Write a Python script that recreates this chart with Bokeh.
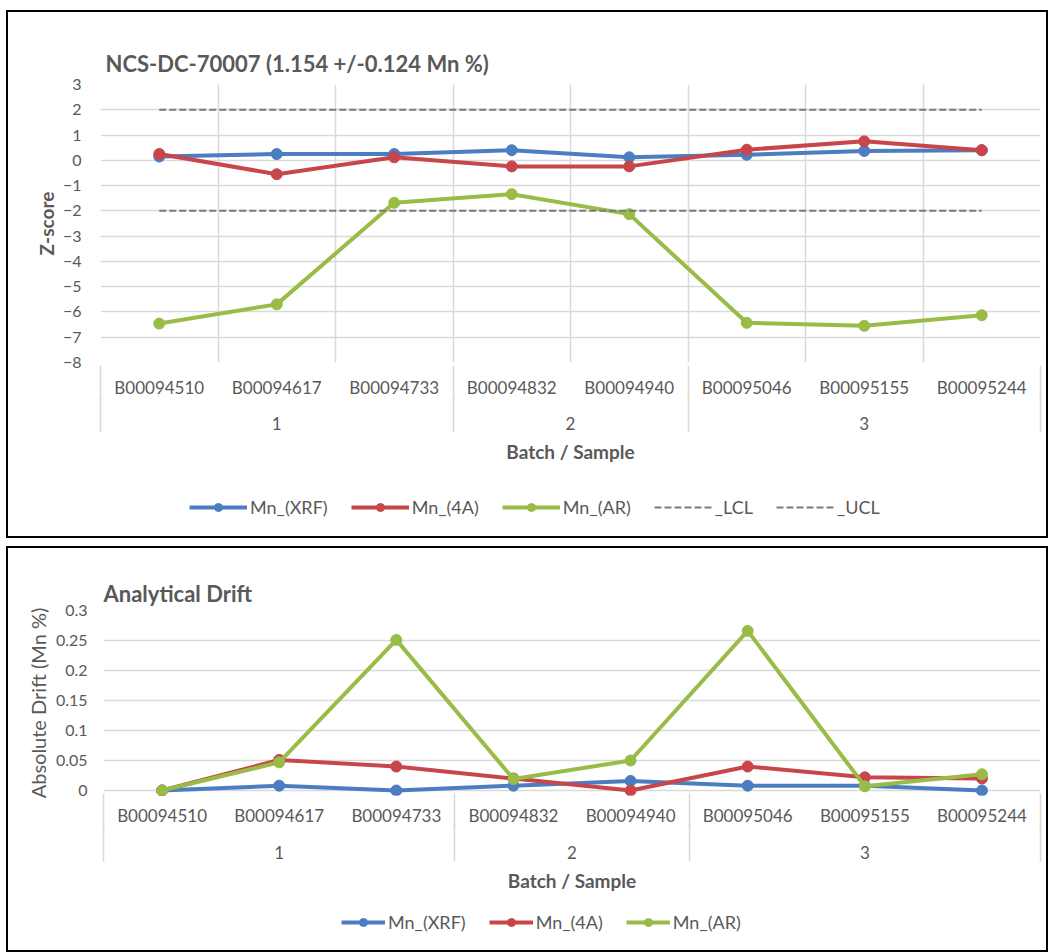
from bokeh.plotting import figure
from bokeh.models import (FixedTicker, LinearAxis, Legend, LegendItem, Range1d,
                          NumeralTickFormatter, Grid)
from bokeh.layouts import column
from bokeh.embed import file_html
from bokeh.resources import INLINE

# ---------------- data ----------------
samples = ["B00094510", "B00094617", "B00094733", "B00094832",
           "B00094940", "B00095046", "B00095155", "B00095244"]
batches = ["1", "1", "1", "2", "2", "3", "3", "3"]
batch_labels = ["1", "2", "3"]

z_xrf = [0.15, 0.25, 0.25, 0.40, 0.12, 0.22, 0.37, 0.40]
z_4a = [0.25, -0.55, 0.12, -0.24, -0.24, 0.42, 0.75, 0.40]
z_ar = [-6.46, -5.70, -1.68, -1.34, -2.13, -6.43, -6.55, -6.13]
z_lcl = [-2, -2, -2, -2, -2, -2, -2, -2]
z_ucl = [2, 2, 2, 2, 2, 2, 2, 2]
z_ticks = [3, 2, 1, 0, -1, -2, -3, -4, -5, -6, -7, -8]

d_xrf = [0.0, 0.008, 0.0, 0.008, 0.016, 0.008, 0.008, 0.0]
d_4a = [0.0, 0.051, 0.040, 0.020, 0.0, 0.040, 0.022, 0.020]
d_ar = [0.0, 0.047, 0.251, 0.019, 0.050, 0.266, 0.007, 0.027]
d_ticks = [0, 0.05, 0.1, 0.15, 0.2, 0.25, 0.3]

series_names = ["Mn_(XRF)", "Mn_(4A)", "Mn_(AR)"]
series_colors = ["#4A7EC0", "#C8464A", "#98BC46"]
limit_names = ["_LCL", "_UCL"]
limit_color = "#7A7A7A"

FONT = "Lato"
TXT = "#595959"
GRID = "#D9D9D9"
BORDER = {"border": "2px solid #000000"}

x = list(range(len(samples)))
group_centers = []
for b in batch_labels:
    idx = [i for i, v in enumerate(batches) if v == b]
    group_centers.append(sum(idx) / len(idx))
bounds = [-0.5] + [i - 0.5 for i in range(1, len(batches)) if batches[i] != batches[i - 1]] + [len(batches) - 0.5]
cell_bounds = [i - 0.5 for i in range(len(samples) + 1)]


def no_ticks(ax):
    ax.axis_line_color = None
    ax.major_tick_line_color = None
    ax.minor_tick_line_color = None
    ax.major_tick_in = 0
    ax.major_tick_out = 0
    ax.minor_tick_in = 0
    ax.minor_tick_out = 0


def make_fig(fw, fh, title, title_standoff, title_offset, ylabel, ylabel_bold, ylabel_size,
             y_start, y_end, yticks, yfmt, ml, mt, mb, mr, vgrid,
             ylab_standoff, ytitle_standoff, s1, s2, sep1, sep2, s3):
    p = figure(frame_width=fw, frame_height=fh,
               x_range=Range1d(-0.5, len(samples) - 0.5),
               y_range=Range1d(y_start, y_end),
               output_backend="svg", toolbar_location=None,
               x_axis_location=None,
               min_border_left=ml, min_border_right=mr,
               min_border_top=mt, min_border_bottom=mb)
    p.outline_line_color = None
    p.background_fill_color = "white"
    p.border_fill_color = "white"
    for g in p.xgrid:
        g.visible = False

    p.title.text = title
    p.title.text_font = FONT
    p.title.text_font_size = "22px"
    p.title.text_font_style = "bold"
    p.title.text_color = TXT
    p.title.offset = title_offset
    p.title.standoff = title_standoff

    ya = p.yaxis[0]
    ya.ticker = FixedTicker(ticks=yticks)
    if yfmt is not None:
        ya.formatter = yfmt
    no_ticks(ya)
    ya.major_label_text_font = FONT
    ya.major_label_text_font_size = "16px"
    ya.major_label_text_color = TXT
    ya.major_label_standoff = ylab_standoff
    ya.axis_label = ylabel
    ya.axis_label_text_font = FONT
    ya.axis_label_text_font_size = ylabel_size
    ya.axis_label_text_font_style = "bold" if ylabel_bold else "normal"
    ya.axis_label_text_color = TXT
    ya.axis_label_standoff = ytitle_standoff

    p.ygrid.grid_line_color = GRID
    p.ygrid.grid_line_width = 1.5

    if vgrid:
        g = Grid(dimension=0, ticker=FixedTicker(ticks=cell_bounds),
                 grid_line_color=GRID, grid_line_width=1.5)
        p.add_layout(g)

    # row 1: sample labels
    ax1 = LinearAxis(ticker=FixedTicker(ticks=x),
                     major_label_overrides={i: s for i, s in zip(x, samples)})
    no_ticks(ax1)
    ax1.major_label_text_font = FONT
    ax1.major_label_text_font_size = "17px"
    ax1.major_label_text_color = TXT
    ax1.major_label_standoff = s1
    p.add_layout(ax1, "below")

    # row 2: batch labels + separators reaching up to the frame
    ax2 = LinearAxis(ticker=FixedTicker(ticks=group_centers, minor_ticks=bounds),
                     major_label_overrides={c: l for c, l in zip(group_centers, batch_labels)})
    no_ticks(ax2)
    ax2.minor_tick_line_color = GRID
    ax2.minor_tick_line_width = 1.5
    ax2.minor_tick_in = sep1
    ax2.major_label_text_font = FONT
    ax2.major_label_text_font_size = "17px"
    ax2.major_label_text_color = TXT
    ax2.major_label_standoff = s2
    p.add_layout(ax2, "below")

    # row 3: separators through the batch row + axis title
    ax3 = LinearAxis(ticker=FixedTicker(ticks=[], minor_ticks=bounds))
    no_ticks(ax3)
    ax3.minor_tick_line_color = GRID
    ax3.minor_tick_line_width = 1.5
    ax3.minor_tick_in = sep2
    ax3.axis_label = "Batch / Sample"
    ax3.axis_label_text_font = FONT
    ax3.axis_label_text_font_size = "19px"
    ax3.axis_label_text_font_style = "bold"
    ax3.axis_label_text_color = TXT
    ax3.axis_label_standoff = s3
    p.add_layout(ax3, "below")
    return p


def legend_strip(width, height, specs, glyph_w, loc):
    # a strip below the chart that carries the legend
    q = figure(width=width, height=height,
               x_range=Range1d(-0.5, len(samples) - 0.5),
               y_range=Range1d(1000, 1001),
               output_backend="svg", toolbar_location=None,
               x_axis_location=None, y_axis_location=None, min_border=0)
    q.outline_line_color = None
    q.grid.visible = False
    q.background_fill_color = "white"
    q.border_fill_color = "white"
    items = []
    for name, col, vals, dash, lw, marker in specs:
        rs = [q.line(x, vals, line_color=col, line_width=lw, line_dash=dash)]
        if marker:
            rs.append(q.scatter(x, vals, size=11, fill_color=col, line_color=col))
        items.append(LegendItem(label=name, renderers=rs))
    legend = Legend(items=items, orientation="horizontal", location=loc,
                    glyph_width=glyph_w, glyph_height=20, label_standoff=3,
                    spacing=23, padding=4, margin=0,
                    label_text_font=FONT, label_text_font_size="18px",
                    label_text_color=TXT, border_line_color=None,
                    background_fill_alpha=0)
    q.add_layout(legend)
    return q


# ---------------- top chart ----------------
p1 = make_fig(fw=940, fh=278, title="NCS-DC-70007 (1.154 +/-0.124 Mn %)",
              title_standoff=16, title_offset=5,
              ylabel="Z-score", ylabel_bold=True, ylabel_size="19px",
              y_start=-8, y_end=3, yticks=z_ticks, yfmt=None,
              ml=92, mt=72, mb=108, mr=6, vgrid=True,
              ylab_standoff=19, ytitle_standoff=2,
              s1=14, s2=16, sep1=35, sep2=37, s3=7)
for name, col, vals in zip(series_names, series_colors, [z_xrf, z_4a, z_ar]):
    p1.line(x, vals, line_color=col, line_width=4)
    p1.scatter(x, vals, size=11, fill_color=col, line_color=col)
for vals in [z_lcl, z_ucl]:
    p1.line(x, vals, line_color=limit_color, line_width=2, line_dash="7 3")

specs1 = [(n, c, v, "solid", 4, True) for n, c, v in zip(series_names, series_colors, [z_xrf, z_4a, z_ar])]
specs1 += [(n, limit_color, v, "7 3", 2, False) for n, v in zip(limit_names, [z_lcl, z_ucl])]
q1 = legend_strip(1038, 66, specs1, 58, (89, 18))

# ---------------- bottom chart ----------------
p2 = make_fig(fw=937, fh=185, title="Analytical Drift",
              title_standoff=7, title_offset=0,
              ylabel="Absolute Drift (Mn %)", ylabel_bold=False, ylabel_size="20px",
              y_start=0.3 - 185 / 600, y_end=0.3, yticks=d_ticks,
              yfmt=NumeralTickFormatter(format="0.[00]"),
              ml=95, mt=62, mb=100, mr=6, vgrid=False,
              ylab_standoff=16, ytitle_standoff=3,
              s1=9, s2=17, sep1=35, sep2=38, s3=7)
for name, col, vals in zip(series_names, series_colors, [d_xrf, d_4a, d_ar]):
    p2.line(x, vals, line_color=col, line_width=4)
    p2.scatter(x, vals, size=11, fill_color=col, line_color=col)

specs2 = [(n, c, v, "solid", 4, True) for n, c, v in zip(series_names, series_colors, [d_xrf, d_4a, d_ar])]
q2 = legend_strip(1038, 55, specs2, 44, (238, 17))

c1 = column(p1, q1, spacing=0, styles=BORDER)
c2 = column(p2, q2, spacing=0, styles=BORDER)
layout = column(c1, c2, spacing=8, margin=(10, 0, 0, 6))
open("out.html", "w").write(file_html(layout, INLINE))
